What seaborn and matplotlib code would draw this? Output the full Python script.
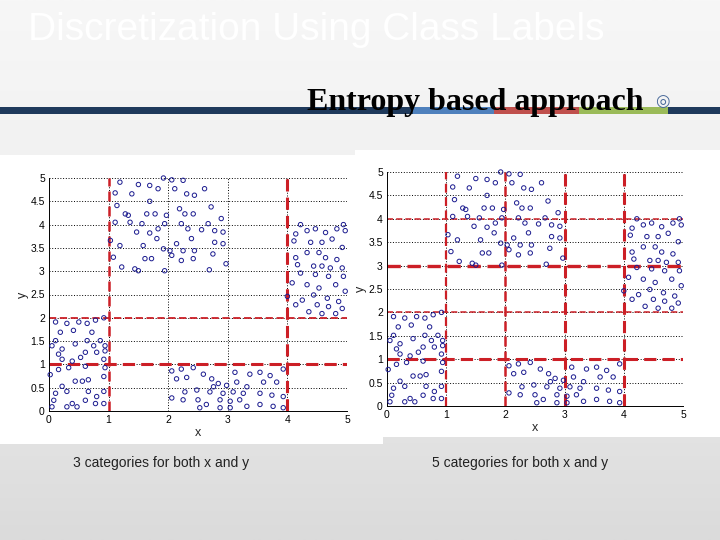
import numpy as np
import pandas as pd
import seaborn as sns
import matplotlib.pyplot as plt
from matplotlib.patches import Rectangle

# points (same sample in both panels)
# bottom-left group
xa = [0.11, 0.30, 0.50, 0.64, 0.78, 0.92, 0.19, 0.41, 0.72, 0.11, 0.05, 0.22, 0.44, 0.64, 0.75, 0.86,
      0.94, 0.61, 0.80, 0.53, 0.22, 0.39, 0.92, 0.16, 0.33, 0.61, 0.94, 0.92, 0.22, 0.44, 0.56, 0.66,
      0.11, 0.30, 0.66, 0.80, 0.92, 0.08, 0.39, 0.61, 0.78, 0.05, 0.30, 0.47, 0.92, 0.02, 0.94, 0.16]
ya = [1.91, 1.88, 1.91, 1.88, 1.95, 2.00, 1.69, 1.73, 1.69, 1.51, 1.40, 1.33, 1.44, 1.51, 1.40, 1.51,
      1.40, 1.26, 1.26, 1.15, 1.11, 1.07, 1.11, 0.89, 0.93, 0.96, 0.93, 0.74, 0.53, 0.64, 0.64, 0.67,
      0.38, 0.42, 0.42, 0.31, 0.42, 0.23, 0.16, 0.23, 0.16, 0.09, 0.09, 0.09, 0.16, 0.78, 1.29, 1.22]
# top group
xb = [1.19, 1.11, 1.39, 1.50, 1.69, 1.83, 1.92, 2.06, 2.25, 2.11, 2.31, 2.44, 2.61, 1.69, 1.14, 1.33,
      1.64, 1.78, 1.97, 2.19, 2.28, 2.42, 2.72, 2.89, 1.11, 1.36, 1.56, 1.94, 2.22, 2.67, 2.56, 2.78,
      2.92, 1.47, 1.69, 1.83, 2.33, 1.03, 1.19, 1.58, 1.81, 1.92, 2.03, 2.14, 2.25, 2.39, 2.44, 2.78,
      2.92, 1.08, 1.61, 1.72, 2.06, 2.22, 2.42, 2.75, 2.97, 1.22, 1.44, 1.94, 2.69, 1.50, 1.28]
yb = [4.91, 4.68, 4.66, 4.86, 4.84, 4.77, 5.00, 4.96, 4.95, 4.77, 4.66, 4.63, 4.77, 4.50, 4.41, 4.20,
      4.23, 4.23, 4.20, 4.34, 4.23, 4.23, 4.38, 4.13, 4.05, 4.05, 4.02, 4.02, 4.02, 4.02, 3.89, 3.87,
      3.84, 3.84, 3.82, 3.91, 3.91, 3.66, 3.55, 3.55, 3.70, 3.48, 3.44, 3.59, 3.44, 3.70, 3.44, 3.62,
      3.59, 3.30, 3.27, 3.27, 3.34, 3.23, 3.27, 3.37, 3.16, 3.09, 3.05, 3.01, 3.03, 3.01, 4.23]
# bottom group
xc = [2.06, 2.22, 2.42, 2.31, 2.14, 2.59, 2.73, 2.84, 3.12, 3.15, 3.37, 3.54, 3.71, 3.60, 3.82, 3.93,
      2.28, 2.48, 2.70, 2.92, 3.09, 3.26, 3.54, 3.74, 3.93, 2.06, 2.25, 2.50, 2.87, 3.04, 3.20, 2.53,
      2.87, 3.04, 3.32, 3.54, 3.76, 3.93, 2.76, 3.32, 2.98, 2.64]
yc = [0.86, 0.90, 0.93, 0.72, 0.69, 0.79, 0.69, 0.59, 0.83, 0.62, 0.79, 0.83, 0.76, 0.62, 0.62, 0.90,
      0.41, 0.45, 0.41, 0.38, 0.41, 0.38, 0.38, 0.34, 0.31, 0.28, 0.24, 0.24, 0.24, 0.21, 0.24, 0.07,
      0.07, 0.07, 0.10, 0.14, 0.10, 0.07, 0.52, 0.52, 0.55, 0.14]
# right group
xd = [4.22, 4.14, 4.33, 4.47, 4.64, 4.83, 4.94, 4.97, 4.11, 4.39, 4.58, 4.75, 4.92, 4.14, 4.33, 4.53,
      4.64, 4.83, 4.44, 4.58, 4.72, 4.92, 4.22, 4.47, 4.69, 4.94, 4.08, 4.33, 4.53, 4.81, 4.97, 4.00,
      4.25, 4.44, 4.67, 4.86, 4.14, 4.50, 4.69, 4.36, 4.58, 4.81, 4.92, 4.17]
yd = [4.00, 3.80, 3.87, 3.91, 3.83, 3.91, 4.00, 3.87, 3.65, 3.62, 3.62, 3.69, 3.51, 3.29, 3.40, 3.40,
      3.29, 3.25, 3.11, 3.11, 3.07, 3.07, 2.96, 2.93, 2.89, 2.89, 2.75, 2.71, 2.64, 2.71, 2.57, 2.46,
      2.38, 2.49, 2.42, 2.35, 2.28, 2.28, 2.24, 2.13, 2.09, 2.09, 2.20, 3.14]

pts = pd.DataFrame({"x": xa + xb + xc + xd, "y": ya + yb + yc + yd})

# split points found by the entropy method
cuts_3_x = [1, 4]
cuts_3_y = [1, 2]
cuts_5_x = [1, 2, 3, 4]
cuts_5_y = [1, 2, 3, 4]

title = "Discretization Using Class Labels"
subtitle = "Entropy based approach"
captions = ["3 categories for both x and y", "5 categories for both x and y"]

sns.set_style("white")
plt.rcParams["font.family"] = ["Liberation Sans", "DejaVu Sans"]

fig = plt.figure(figsize=(7.2, 5.4), dpi=100)

# slide background
bg = fig.add_axes([0, 0, 1, 1], zorder=-10)
grad = np.linspace(0, 1, 256)[:, None]
bg.imshow(grad, extent=[0, 1, 0, 1], aspect="auto", cmap=plt.matplotlib.colors.LinearSegmentedColormap.from_list(
    "slide", ["#f7f7f7", "#f1f1f1", "#e8e8e8", "#dbdbdb"]), origin="upper")
bg.set_xlim(0, 1)
bg.set_ylim(0, 1)
bg.axis("off")

W, H = 720, 540


def box(x0, y0, x1, y1, color):
    bg.add_patch(Rectangle((x0 / W, 1 - y1 / H), (x1 - x0) / W, (y1 - y0) / H,
                           color=color, lw=0, zorder=2))


# header bar with coloured accent under the subtitle
box(0, 107, 720, 114, "#1f3a5c")
box(413, 107, 494, 114, "#4f81bd")
box(494, 107, 579, 114, "#c0504d")
box(579, 107, 668, 114, "#9bbb59")

# white picture frames
box(0, 155, 383, 444, "white")
box(355, 150, 720, 437, "white")

fig.text(28 / W, 1 - 30 / H, title, color="white", fontsize=28, va="center", ha="left")
fig.text(307 / W, 1 - 110 / H, subtitle, family=["Liberation Serif"], fontweight="bold",
         fontsize=23, va="baseline", ha="left", color="black")
fig.text(655 / W, 1 - 101 / H, "\u25ce", family=["DejaVu Sans"], fontsize=12, color="#4a6a9a",
         va="center", ha="left")

panels = [
    ([49 / W, 1 - 411 / H, 298 / W, 233 / H], cuts_3_x, cuts_3_y,
     {1: 1.8, 4: 2.2}, {1: 2.2, 2: 1.3}),
    ([387 / W, 1 - 406 / H, 296 / W, 234 / H], cuts_5_x, cuts_5_y,
     {1: 1.6, 2: 1.8, 3: 2.2, 4: 2.2}, {1: 2.2, 2: 1.1, 3: 2.4, 4: 1.1}),
]

for rect, cx, cy, wx, wy in panels:
    ax = fig.add_axes(rect)
    ax.set_facecolor("none")
    for t in [1, 2, 3, 4, 5]:
        ax.axvline(t, color="black", lw=0.7, ls=(0, (1, 1.8)), zorder=0)
    for t in np.arange(0.5, 5.01, 0.5):
        ax.axhline(t, color="black", lw=0.7, ls=(0, (1, 1.8)), zorder=0)
    for c in cx:
        ax.axvline(c, color="#cc1f26", lw=wx[c], ls=(0, (4, 2)), zorder=1)
    for c in cy:
        ax.axhline(c, color="#cc1f26", lw=wy[c], ls=(0, (4, 2)), zorder=1)
    sns.scatterplot(data=pts, x="x", y="y", ax=ax, marker="o", s=10,
                    facecolor="none", edgecolor="#1b1b8f", linewidth=0.7, zorder=3, clip_on=False)
    ax.set_xlim(0, 5)
    ax.set_ylim(0, 5)
    ax.set_xticks([0, 1, 2, 3, 4, 5])
    ax.set_yticks(np.arange(0, 5.01, 0.5))
    ax.set_yticklabels(["0", "0.5", "1", "1.5", "2", "2.5", "3", "3.5", "4", "4.5", "5"])
    ax.tick_params(direction="in", length=3, width=0.6, labelsize=7.5, colors="black", pad=3)
    for s in ["top", "right"]:
        ax.spines[s].set_visible(False)
    for s in ["left", "bottom"]:
        ax.spines[s].set_color("black")
        ax.spines[s].set_linewidth(0.7)
    ax.set_xlabel("x", fontsize=9, labelpad=1)
    ax.set_ylabel("y", fontsize=9, labelpad=1)

fig.text(73 / W, 1 - 463 / H, captions[0], fontsize=10, color="#222222", va="center", ha="left")
fig.text(432 / W, 1 - 463 / H, captions[1], fontsize=10, color="#222222", va="center", ha="left")

fig.savefig("out.png", dpi=100)
